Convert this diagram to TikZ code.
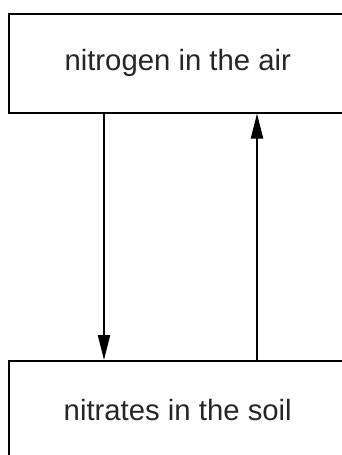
\documentclass[tikz,border=0pt]{standalone}
\usepackage{fontspec}
\setmainfont{Liberation Sans}
\usetikzlibrary{arrows.meta}
\begin{document}
\begin{tikzpicture}[x=1pt,y=-1pt,
  boxnode/.style={draw=black,line width=2pt,minimum width=338.5pt,inner sep=0pt,
    font=\fontsize{29.3}{34}\selectfont,text=black!85},
  arr/.style={line width=2pt,-{Triangle[length=25pt,width=12pt]}}]
\useasboundingbox (0,0) rectangle (342,455);
\clip (0,0) rectangle (342,455);
\node[boxnode,minimum height=99pt] (air) at (177.75,63) {nitrogen in the air};
\node[boxnode,minimum height=98pt] (soil) at (177.75,410) {nitrates in the soil};
\draw[arr] (air.south -| 104,0) -- (soil.north -| 104,0);
\draw[arr] (soil.north -| 257,0) -- (air.south -| 257,0);
\end{tikzpicture}
\end{document}
